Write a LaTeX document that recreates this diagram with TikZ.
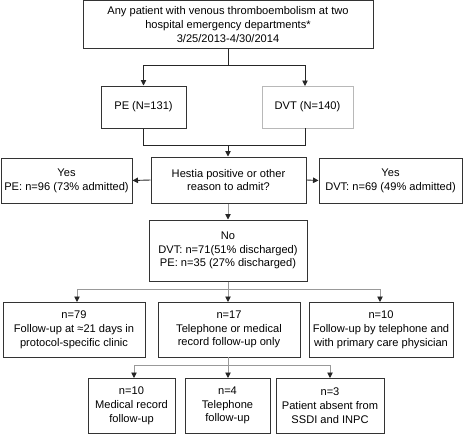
\documentclass[tikz,border=0pt]{standalone}
\usepackage{fontspec}
\setmainfont{Liberation Sans}
\usetikzlibrary{arrows.meta}
\begin{document}
\begin{tikzpicture}[x=1pt,y=-1pt,
  box/.style={draw=black!80,line width=1pt,rectangle,align=center,inner sep=0pt,font=\fontsize{11.1}{13.8}\selectfont},
  blk/.style={draw=black!85,line width=0.9pt},
  gry/.style={draw=black!40,line width=0.9pt},
  tip/.style={-{Triangle[length=5.5pt,width=5.5pt,color=black!85]}}]
\useasboundingbox (0,0) rectangle (463,434);
\node[box,minimum width=290pt,minimum height=48pt] (top) at (228,24.5) {Any patient with venous thromboembolism at two\\hospital emergency departments*\\3/25/2013-4/30/2014};
\node[box,minimum width=85pt,minimum height=42pt] (pe) at (143.5,107) {PE (N=131)};
\node[box,draw=black!28,minimum width=91pt,minimum height=42pt] (dvt) at (307.5,107) {DVT (N=140)};
\node[box,minimum width=155pt,minimum height=46pt] (hes) at (228.5,180) {Hestia positive or other\\reason to admit?};
\node[box,minimum width=131pt,minimum height=45pt] (yl) at (66.5,180.5) {Yes\\PE: n=96 (73\% admitted)};
\node[box,minimum width=143pt,minimum height=45pt] (yr) at (390.5,180.5) {Yes\\DVT: n=69 (49\% admitted)};
\node[box,minimum width=158pt,minimum height=61pt] (no) at (228,250.5) {No\\DVT: n=71(51\% discharged)\\PE: n=35 (27\% discharged)};
\node[box,minimum width=142pt,minimum height=55pt] (ra) at (74,329.5) {n=79\\Follow-up at ≈21 days in\\protocol-specific clinic};
\node[box,minimum width=142pt,minimum height=55pt] (rb) at (229,329.5) {n=17\\Telephone or medical\\record follow-up only};
\node[box,minimum width=144pt,minimum height=55pt] (rc) at (381,329.5) {n=10\\Follow-up by telephone and\\with primary care physician};
\node[box,minimum width=87pt,minimum height=55pt] (sa) at (131.5,405.5) {n=10\\Medical record\\follow-up};
\node[box,minimum width=85pt,minimum height=55pt] (sb) at (227.5,405.5) {n=4\\Telephone\\follow-up};
\node[box,minimum width=108pt,minimum height=55pt] (sc) at (330,405.5) {n=3\\Patient absent from\\SSDI and INPC};
% top split
\coordinate (j1) at (228,65);
\draw[blk] (top.south -| j1) -- (j1);
\draw[blk,tip] (j1) -| (pe.north);
\draw[blk,tip] (j1) -| (305,86);
% merge
\coordinate (j2) at (228,145);
\draw[blk] (pe.south) |- (j2);
\draw[blk] (305,128) |- (j2);
\draw[blk,tip] (j2) -- (hes.north -| j2);
% sides
\draw[blk,tip] (hes.west) -- (yl.east);
\draw[blk,tip] (hes.east) -- (yr.west);
\draw[gry,tip] (hes.south -| no.north) -- (no.north);
% row3
\coordinate (j3) at (228,289);
\draw[gry] (no.south) -- (j3);
\draw[gry,tip] (j3) -| (77,302);
\draw[gry,tip] (j3) -- (228,302);
\draw[gry,tip] (j3) -| (380,302);
% row4
\coordinate (j4) at (228,365);
\draw[gry] (228,357) -- (j4);
\draw[gry,tip] (j4) -| (134,378);
\draw[gry,tip] (j4) -- (228,378);
\draw[gry,tip] (j4) -| (330,378);
\end{tikzpicture}
\end{document}
